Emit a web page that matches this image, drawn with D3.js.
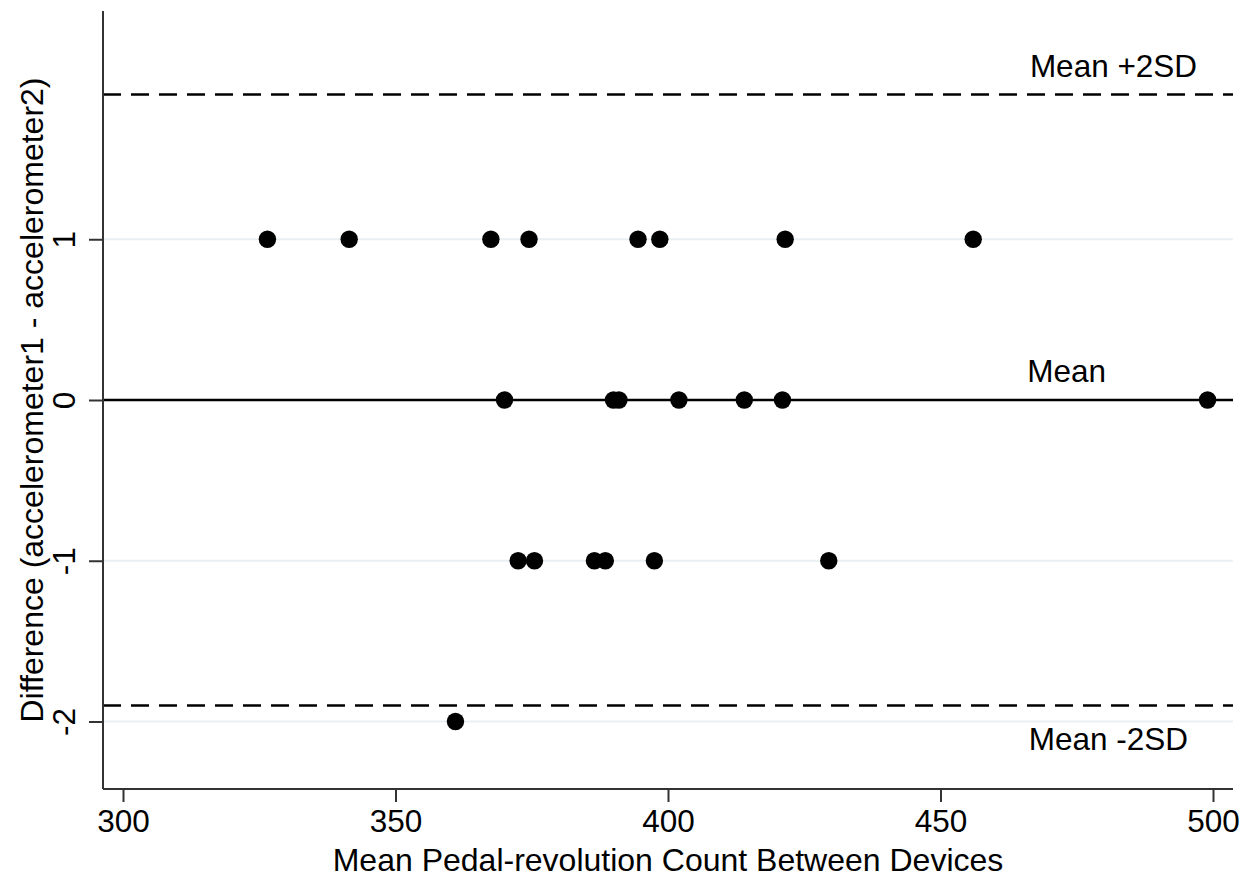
<!DOCTYPE html>
<html>
<head>
<meta charset="utf-8">
<script src="https://cdn.jsdelivr.net/npm/d3@7"></script>
<style>
  html, body { margin: 0; padding: 0; background: #fff; }
  text { font-family: "Liberation Sans", Arial, Helvetica, sans-serif; fill: #000; }
</style>
</head>
<body>
<svg id="chart" width="1245" height="877"></svg>
<script>
// ---- data ----
const meanCounts = [326.5, 341.5, 367.5, 374.5, 394.5, 398.5, 421.5, 456,
                    370, 390, 391, 402, 414, 421, 499,
                    372.5, 375.5, 386.5, 388.5, 397.5, 429.5,
                    361];
const differences = [1, 1, 1, 1, 1, 1, 1, 1,
                     0, 0, 0, 0, 0, 0, 0,
                     -1, -1, -1, -1, -1, -1,
                     -2];
const xTicks = [300, 350, 400, 450, 500];
const yTicks = [-2, -1, 0, 1];
const meanDiff = 0;
const upperLimit = 1.9;
const lowerLimit = -1.9;
const refLabels = ["Mean +2SD", "Mean", "Mean -2SD"];
const xTitle = "Mean Pedal-revolution Count Between Devices";
const yTitle = "Difference (accelerometer1 - accelerometer2)";

// ---- layout ----
const svg = d3.select("#chart");
const pL = 103, pR = 1233, pT = 11, pB = 789;
const x = d3.scaleLinear().domain([296.33, 503.67]).range([pL, pR]);
const y = d3.scaleLinear().domain([-2.42, 2.42]).range([pB, pT]);
const fs = 31.5;
const fsTitle = 32;

// gridlines
svg.append("g").selectAll("line").data(yTicks.filter(d => d !== meanDiff)).join("line")
  .attr("x1", pL).attr("x2", pR)
  .attr("y1", d => y(d)).attr("y2", d => y(d))
  .attr("stroke", "#e8f0f3").attr("stroke-width", 2);

// limit lines
const limits = [upperLimit, lowerLimit];
svg.append("g").selectAll("line").data(limits).join("line")
  .attr("x1", pL).attr("x2", pR)
  .attr("y1", d => y(d)).attr("y2", d => y(d))
  .attr("stroke", "#000").attr("stroke-width", 2.5)
  .attr("stroke-dasharray", "18,10");

// mean line
svg.append("line")
  .attr("x1", pL).attr("x2", pR)
  .attr("y1", y(meanDiff)).attr("y2", y(meanDiff))
  .attr("stroke", "#000").attr("stroke-width", 2.5);

// points
svg.append("g").selectAll("circle").data(meanCounts.map((m, i) => [m, differences[i]])).join("circle")
  .attr("cx", d => x(d[0])).attr("cy", d => y(d[1]))
  .attr("r", 8.7).attr("fill", "#000");

// reference labels
const labelY = [y(upperLimit) - 18, y(meanDiff) - 18, y(lowerLimit) + 45];
const labelX = [x(466.4), x(465.9), x(466.2)];
svg.append("g").selectAll("text").data(refLabels).join("text")
  .attr("x", (d, i) => labelX[i]).attr("y", (d, i) => labelY[i])
  .attr("font-size", fs).text(d => d);

// axes
const xAxis = d3.axisBottom(x).tickValues(xTicks).tickSize(13).tickPadding(8).tickFormat(d => String(d));
const gx = svg.append("g").attr("transform", `translate(0,${pB})`).call(xAxis);
gx.select(".domain").attr("d", `M${pL},0H${pR}`).attr("stroke", "#333").attr("stroke-width", 2);
gx.selectAll(".tick line").attr("stroke", "#333").attr("stroke-width", 2);
gx.selectAll(".tick text").attr("font-size", fs).attr("font-family", null).attr("fill", "#000");

const yAxis = d3.axisLeft(y).tickValues(yTicks).tickSize(14).tickFormat(d => String(d));
const gy = svg.append("g").attr("transform", `translate(${pL},0)`).call(yAxis);
gy.select(".domain").attr("d", `M0,${pT}V${pB}`).attr("stroke", "#333").attr("stroke-width", 2);
gy.selectAll(".tick line").attr("stroke", "#333").attr("stroke-width", 2);
gy.selectAll(".tick text")
  .attr("font-size", fs).attr("font-family", null).attr("fill", "#000")
  .attr("x", null).attr("dy", null)
  .attr("text-anchor", "middle")
  .attr("transform", "translate(-28,0) rotate(-90)");

// axis titles
svg.append("text").attr("x", (pL + pR) / 2).attr("y", 871)
  .attr("text-anchor", "middle").attr("font-size", fsTitle).text(xTitle);
svg.append("text")
  .attr("transform", `translate(43,${(pT + pB) / 2}) rotate(-90)`)
  .attr("text-anchor", "middle").attr("font-size", fsTitle).text(yTitle);
</script>
</body>
</html>
